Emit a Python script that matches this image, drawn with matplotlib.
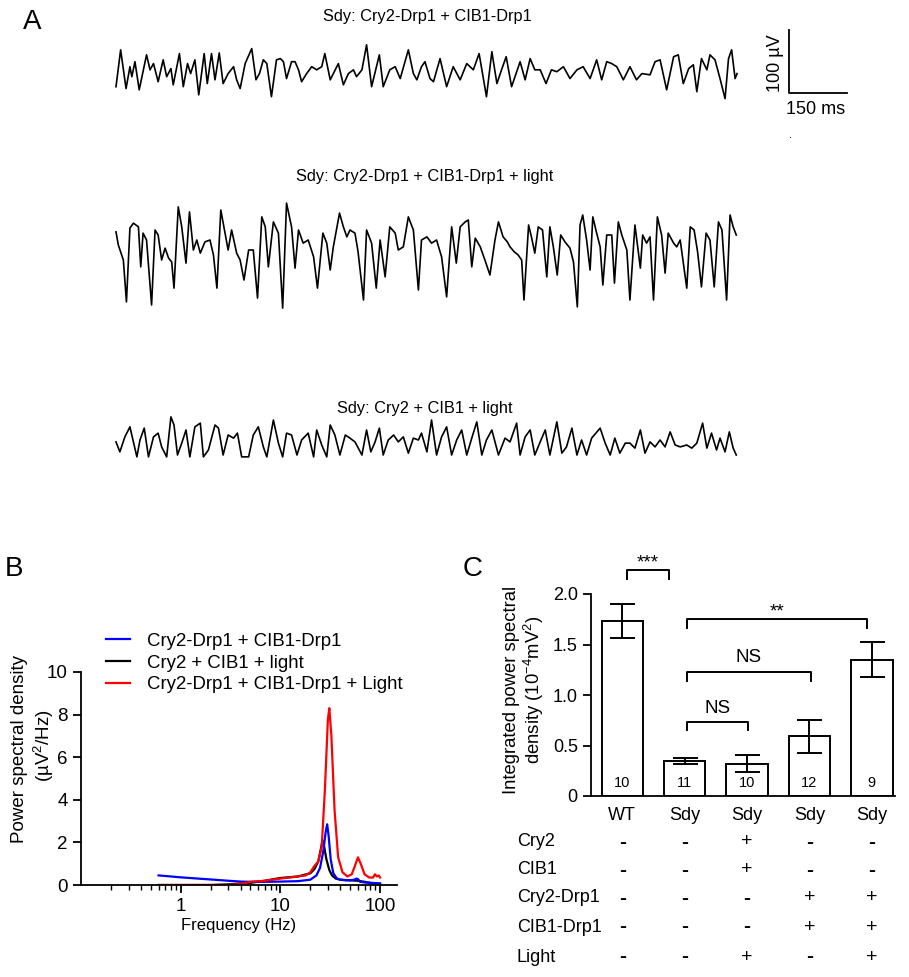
import matplotlib
matplotlib.use("Agg")
import matplotlib.pyplot as plt
from matplotlib.lines import Line2D

plt.rcParams.update(
    {
        "font.family": ["Liberation Sans", "DejaVu Sans"],
        "mathtext.fontset": "custom",
        "mathtext.rm": "Liberation Sans",
        "mathtext.it": "Liberation Sans:italic",
        "mathtext.default": "regular",
        "axes.linewidth": 1.3,
        "xtick.major.width": 1.3,
        "ytick.major.width": 1.3,
        "xtick.minor.width": 1.0,
    }
)

# ---------------- data ----------------
# A: EEG traces (time in ms, voltage in uV)
trace1_t = [0, 12, 26, 36, 41, 49, 60, 79, 88, 97, 109, 122, 131, 142, 148, 164, 174, 185, 193, 204,
            214, 228, 236, 247, 256, 267, 277, 290, 304, 312, 321, 334, 351, 362, 371, 381, 390, 402,
            415, 425, 433, 441, 454, 463, 472, 480, 493, 506, 519, 532, 540, 554, 562, 575, 588, 601,
            614, 622, 636, 648, 661, 681, 691, 708, 722, 735, 756, 769, 778, 790, 799, 812, 821, 838,
            855, 872, 890, 907, 924, 939, 958, 972, 985, 997, 1009, 1023, 1045, 1058, 1071, 1083, 1097,
            1112, 1126, 1140, 1157, 1174, 1192, 1208, 1226, 1243, 1256, 1269, 1282, 1295, 1312, 1329,
            1346, 1360, 1381, 1394, 1407, 1424, 1442, 1454, 1467, 1481, 1493, 1502, 1514, 1528, 1536,
            1549, 1562, 1575, 1584, 1592, 1601, 1606]
trace1_v = [-24, 35, -27, 8, -8, 16, -29, 27, 3, 13, -16, 19, -8, 5, -21, 29, -24, 13, -3, 19,
            -37, 29, -19, 29, -13, 30, -19, -3, 8, -13, -27, 13, 37, -13, -3, 19, 13, -40,
            19, 21, 16, -11, 16, 16, 3, -16, -3, 8, 3, 8, 29, -13, -3, 13, -21, -3,
            3, -8, 3, 43, -24, 27, -24, 3, 8, -11, 35, -3, -13, 8, 16, -11, -16, 21,
            -24, 8, -13, 13, 3, 29, -40, 32, -19, 3, 24, -24, 16, -13, 21, 3, 3,
            -19, 3, 0, 8, -11, 3, 8, -11, 19, -13, 16, 13, 8, -13, 8,
            -13, -3, -5, 16, 19, -29, 24, 27, -19, 5, 11, -32, 21, 3, 27,
            19, -11, -43, 21, 35, -11, -3]

trace2_t = [0, 6, 19, 27, 36, 45, 58, 64, 70, 79, 92, 101, 109, 118, 127, 136, 144, 150, 161, 170,
            181, 190, 200, 209, 218, 230, 243, 252, 261, 271, 282, 290, 299, 312, 321, 331, 343, 355,
            366, 377, 386, 394, 407, 420, 431, 441, 454, 463, 472, 484, 497, 511, 521, 535, 545, 554,
            562, 578, 588, 597, 605, 618, 626, 640, 648, 661, 673, 683, 696, 708, 722, 730, 743, 756,
            769, 782, 790, 804, 816, 829, 842, 855, 868, 880, 890, 903, 911, 920, 929, 942, 954, 967,
            980, 989, 1001, 1012, 1019, 1030, 1040, 1049, 1055, 1067, 1075, 1083, 1092, 1103, 1114,
            1122, 1131, 1141, 1150, 1161, 1174, 1183, 1193, 1200, 1207, 1217, 1226, 1233, 1243, 1252,
            1259, 1269, 1282, 1289, 1299, 1308, 1321, 1329, 1342, 1356, 1362, 1372, 1381, 1390, 1400,
            1411, 1420, 1428, 1442, 1450, 1459, 1476, 1485, 1495, 1504, 1514, 1526, 1536, 1547, 1558,
            1567, 1579, 1588, 1596, 1604]
trace2_v = [13, -8, -32, -99, 19, 27, 21, -43, 11, 0, -104, 16, 8, -32, -13, -29, -35, -77, 53, 21,
            -37, 45, -16, 0, -21, -3, 0, -24, -77, 48, 11, -16, 16, -21, -32, -64, -16, -16,
            -93, 37, 21, -43, 29, 11, -109, 59, 21, -45, 16, -5, 0, -27, -77, 11, -5, -48,
            -11, 43, 21, 5, 16, 11, -19, -96, 16, -5, -77, 0, -59, 21, 11, -16, -11, 37,
            16, -80, 0, 5, -5, 0, -27, -91, 21, -37, 21, 29, 32, -43, 3, -11, -32, -56,
            0, 29, 5, -3, -11, -19, -24, -32, -96, 24, 3, -21, 21, 16, -59,
            21, -11, -56, 8, -3, -13, -35, -107, 24, 40, 0, -48, 37, 11, -11,
            -72, 8, 8, -69, 29, 8, -16, -96, 24, -45, 8, -5, 5, -96, 37,
            8, -53, 11, -5, -11, 0, -77, 21, 16, -19, -75, 11, 0, -75, 29,
            16, -96, 40, 21, 8]

trace3_t = [0, 10, 23, 36, 45, 54, 62, 73, 84, 97, 109, 118, 131, 142, 150, 159, 170, 181, 191, 204,
            218, 226, 239, 256, 265, 277, 290, 304, 314, 325, 343, 355, 368, 381, 390, 407, 420, 431,
            441, 454, 468, 480, 497, 511, 519, 532, 545, 554, 566, 579, 593, 605, 618, 636, 648, 659,
            670, 681, 691, 704, 718, 730, 743, 756, 769, 782, 790, 804, 816, 829, 842, 855, 868, 881,
            894, 907, 920, 933, 946, 958, 972, 989, 1006, 1019, 1036, 1045, 1058, 1071, 1083, 1097,
            1110, 1122, 1140, 1153, 1165, 1179, 1192, 1204, 1217, 1230, 1252, 1265, 1278, 1290, 1303,
            1317, 1329, 1342, 1356, 1368, 1381, 1394, 1407, 1420, 1433, 1446, 1459, 1476, 1489, 1502,
            1517, 1528, 1540, 1553, 1562, 1575, 1586, 1596, 1604]
trace3_v = [-3, -19, 5, 21, -3, -27, 0, 19, -27, 5, 11, -11, -27, 37, 24, -24, -5, 16, -27, 21,
            27, -27, -16, 24, 19, -24, 8, 3, 11, -27, -27, 8, 21, -11, -27, 32, -5, -27,
            11, 8, -24, 0, 11, -27, 16, -8, -27, 24, 8, -24, 8, 3, -3, -24, 16, -19,
            -3, 19, -24, 0, 8, -3, 5, -21, 3, 0, 11, -19, 32, -24, 5, 21, -24, 0,
            16, -24, 3, 29, -24, 0, 16, -24, 3, -3, 27, -24, 5, 16, -24, -3,
            16, -24, 29, -21, -11, 19, -24, 0, -24, 3, 19, -5, -24, 3, -21,
            -5, -5, -13, 16, -21, -3, -11, 0, -11, 13, -8, -11, -8, -13, -5,
            27, -13, 11, -16, 3, -19, 13, -13, -24]

trace_titles = ["Sdy: Cry2-Drp1 + CIB1-Drp1",
                "Sdy: Cry2-Drp1 + CIB1-Drp1 + light",
                "Sdy: Cry2 + CIB1 + light"]

# B: power spectral density (Hz, uV^2/Hz)
blue_f = [0.6, 0.8, 1, 1.5, 2, 3, 4, 5, 7, 10, 15, 20, 23, 25, 27, 28.5, 29.5, 30.5, 32, 34, 37, 40,
          45, 50, 55, 58, 60, 63, 70, 80, 100]
blue_p = [0.45, 0.40, 0.36, 0.30, 0.26, 0.20, 0.16, 0.15, 0.15, 0.16, 0.18, 0.25, 0.45, 0.8, 1.6, 2.5,
          2.85, 2.3, 1.2, 0.55, 0.3, 0.25, 0.22, 0.22, 0.25, 0.3, 0.28, 0.15, 0.12, 0.1, 0.08]
black_f = [0.6, 1, 2, 3, 5, 7, 10, 15, 20, 22, 24, 25.5, 26.5, 27.5, 29, 31, 33, 36, 40, 50, 60, 70,
           80, 100]
black_p = [0.0, 0.0, 0.0, 0.03, 0.1, 0.2, 0.33, 0.4, 0.55, 0.75, 1.1, 1.7, 2.1, 1.8, 1.2, 0.7, 0.45,
           0.3, 0.25, 0.22, 0.2, 0.15, 0.1, 0.05]
red_f = [0.6, 1, 2, 3, 4, 5, 7, 10, 15, 18, 20, 22, 24, 26, 28, 30, 31, 32.5, 35, 38, 42, 47, 52, 56,
         60, 64, 70, 78, 85, 89, 93, 97, 100]
red_p = [0.0, 0.0, 0.0, 0.0, 0.05, 0.15, 0.2, 0.3, 0.4, 0.45, 0.6, 0.9, 1.1, 1.8, 4.5, 7.8, 8.3, 7.0,
         3.5, 1.3, 0.6, 0.4, 0.5, 0.9, 1.3, 1.0, 0.5, 0.35, 0.35, 0.5, 0.4, 0.45, 0.35]
psd_labels = ["Cry2-Drp1 + CIB1-Drp1", "Cry2 + CIB1 + light", "Cry2-Drp1 + CIB1-Drp1 + Light"]

# C: integrated power
groups = ["WT", "Sdy", "Sdy", "Sdy", "Sdy"]
ipsd_mean = [1.73, 0.35, 0.32, 0.59, 1.35]
ipsd_err = [0.17, 0.03, 0.085, 0.165, 0.17]
n_animals = [10, 11, 10, 12, 9]
table_rows = ["Cry2", "CIB1", "Cry2-Drp1", "CIB1-Drp1", "Light"]
table_signs = [["-", "-", "+", "-", "-"],
               ["-", "-", "+", "-", "-"],
               ["-", "-", "-", "+", "+"],
               ["-", "-", "-", "+", "+"],
               ["-", "-", "+", "-", "+"]]

# ---------------- layout helpers ----------------
W, H = 909, 977
fig = plt.figure(figsize=(W / 100, H / 100), dpi=100)


def fx(px):
    return px / W


def fy(py):
    return 1 - py / H


def rect(x0, y0, x1, y1):
    return [fx(x0), fy(y1), fx(x1) - fx(x0), fy(y0) - fy(y1)]


# ---------------- panel A ----------------
MS_PER_PX = 2.586
UV_PER_PX = 1.6
T0_PX = 116
ax_a = fig.add_axes(rect(100, 0, 870, 480))
ax_a.set_xlim((100 - T0_PX) * MS_PER_PX, (870 - T0_PX) * MS_PER_PX)
ax_a.set_ylim((71.7 - 480) * UV_PER_PX, 71.7 * UV_PER_PX)
ax_a.set_axis_off()

offsets = [0, (71.7 - 240) * UV_PER_PX, (71.7 - 440) * UV_PER_PX]
for (t, v), off in zip([(trace1_t, trace1_v), (trace2_t, trace2_v), (trace3_t, trace3_v)], offsets):
    ax_a.plot(t, [val + off for val in v], color="black", linewidth=1.2)

# scale bar 150 ms / 100 uV
sb_t, sb_v = (789 - T0_PX) * MS_PER_PX, -34
ax_a.plot([sb_t, sb_t, sb_t + 150], [sb_v + 100, sb_v, sb_v], color="black", linewidth=1.3)
fig.text(fx(775), fy(63), "100 µV", rotation=90, ha="center", va="center", fontsize=13)
fig.text(fx(816), fy(109), "150 ms", ha="center", va="center", fontsize=13)
fig.text(fx(791), fy(135), ".", ha="center", va="center", fontsize=8)

for title, xpx, ypx in zip(trace_titles, [427, 425, 425], [17, 177, 408]):
    fig.text(fx(xpx), fy(ypx), title, ha="center", va="center", fontsize=11.8)

fig.text(fx(23), fy(29), "A", ha="left", va="baseline", fontsize=20)
fig.text(fx(5), fy(576), "B", ha="left", va="baseline", fontsize=20)
fig.text(fx(463), fy(576), "C", ha="left", va="baseline", fontsize=20)

# ---------------- panel B ----------------
ax_b = fig.add_axes(rect(81, 672, 397, 885))
ax_b.plot(black_f, black_p, color="black", linewidth=1.6)
ax_b.plot(blue_f, blue_p, color="#0000ff", linewidth=1.6)
ax_b.plot(red_f, red_p, color="#ff0000", linewidth=1.6)
ax_b.set_xscale("log")
ax_b.set_xlim(0.1, 148)
ax_b.set_ylim(0, 10)
ax_b.set_yticks([0, 2, 4, 6, 8, 10])
ax_b.set_xticks([1, 10, 100], ["1", "10", "100"])
for side in ("top", "right"):
    ax_b.spines[side].set_visible(False)
ax_b.tick_params(axis="both", direction="out", labelsize=13.5, length=6)
ax_b.tick_params(axis="x", which="minor", length=3.5)
ax_b.set_xlabel("Frequency (Hz)", fontsize=12, labelpad=2)
fig.text(fx(20), fy(749), "Power spectral density", rotation=90,
         ha="center", va="center", fontsize=13.5)
fig.text(fx(44), fy(746), "(µV$^2$/Hz)", rotation=90,
         ha="center", va="center", fontsize=13.5)

handles = [Line2D([], [], color=c, linewidth=1.6) for c in ("#0000ff", "black", "#ff0000")]
ax_b.legend(handles, psd_labels, loc="center left", bbox_to_anchor=(fx(106), fy(663)),
            bbox_transform=fig.transFigure, frameon=False, fontsize=13.4, borderpad=0,
            borderaxespad=0, handlelength=1.3, handletextpad=0.9, labelspacing=0.25)

# ---------------- panel C ----------------
ax_c = fig.add_axes(rect(591, 594, 895, 796))
pos = list(range(len(groups)))
ax_c.bar(pos, ipsd_mean, width=0.66, color="white", edgecolor="black", linewidth=1.4)
ax_c.errorbar(pos, ipsd_mean, yerr=ipsd_err, fmt="none", ecolor="black", elinewidth=1.4,
              capsize=9, capthick=1.4)
for p, n in zip(pos, n_animals):
    ax_c.text(p, 0.13, str(n), ha="center", va="center", fontsize=10.5)
ax_c.set_xlim(-0.5, 4.37)
ax_c.set_ylim(0, 2.0)
ax_c.set_yticks([0, 0.5, 1.0, 1.5, 2.0], ["0", "0.5", "1.0", "1.5", "2.0"])
ax_c.set_xticks(pos, groups)
for side in ("top", "right"):
    ax_c.spines[side].set_visible(False)
ax_c.tick_params(axis="y", direction="out", labelsize=13, length=6)
ax_c.tick_params(axis="x", length=0, labelsize=13, pad=8)
fig.text(fx(512), fy(690), "Integrated power spectral", rotation=90,
         ha="center", va="center", fontsize=13.3)
fig.text(fx(534), fy(690), "density (10$^{-4}$mV$^{2}$)", rotation=90,
         ha="center", va="center", fontsize=13.3)

# significance brackets
brackets = [(0.08, 0.75, 2.24, 2.15, "***"), (1.04, 3.92, 1.75, 1.66, "**"),
            (1.04, 3.02, 1.23, 1.14, "NS"), (1.04, 2.02, 0.73, 0.65, "NS")]
for x0, x1, top, end, label in brackets:
    ax_c.plot([x0, x0, x1, x1], [end, top, top, end], color="black", linewidth=1.4, clip_on=False)
    dy = 0.07 if label.startswith("*") else 0.14
    ax_c.text((x0 + x1) / 2, top + dy, label, ha="center", va="center", fontsize=13.5, clip_on=False)

# condition table
xt = ax_c.get_xaxis_transform()
for row, (name, ypx) in enumerate(zip(table_rows, [842, 870, 898, 927, 957])):
    fig.text(fx(517), fy(ypx), name, ha="left", va="center", fontsize=13)
    for p, sign in zip(pos, table_signs[row]):
        ax_c.text(p, (796 - ypx) / 202, sign, transform=xt, ha="center", va="center",
                  fontsize=14 if sign == "+" else 15, fontweight="bold" if sign == "-" else "normal")

fig.savefig("out.png", dpi=100)
